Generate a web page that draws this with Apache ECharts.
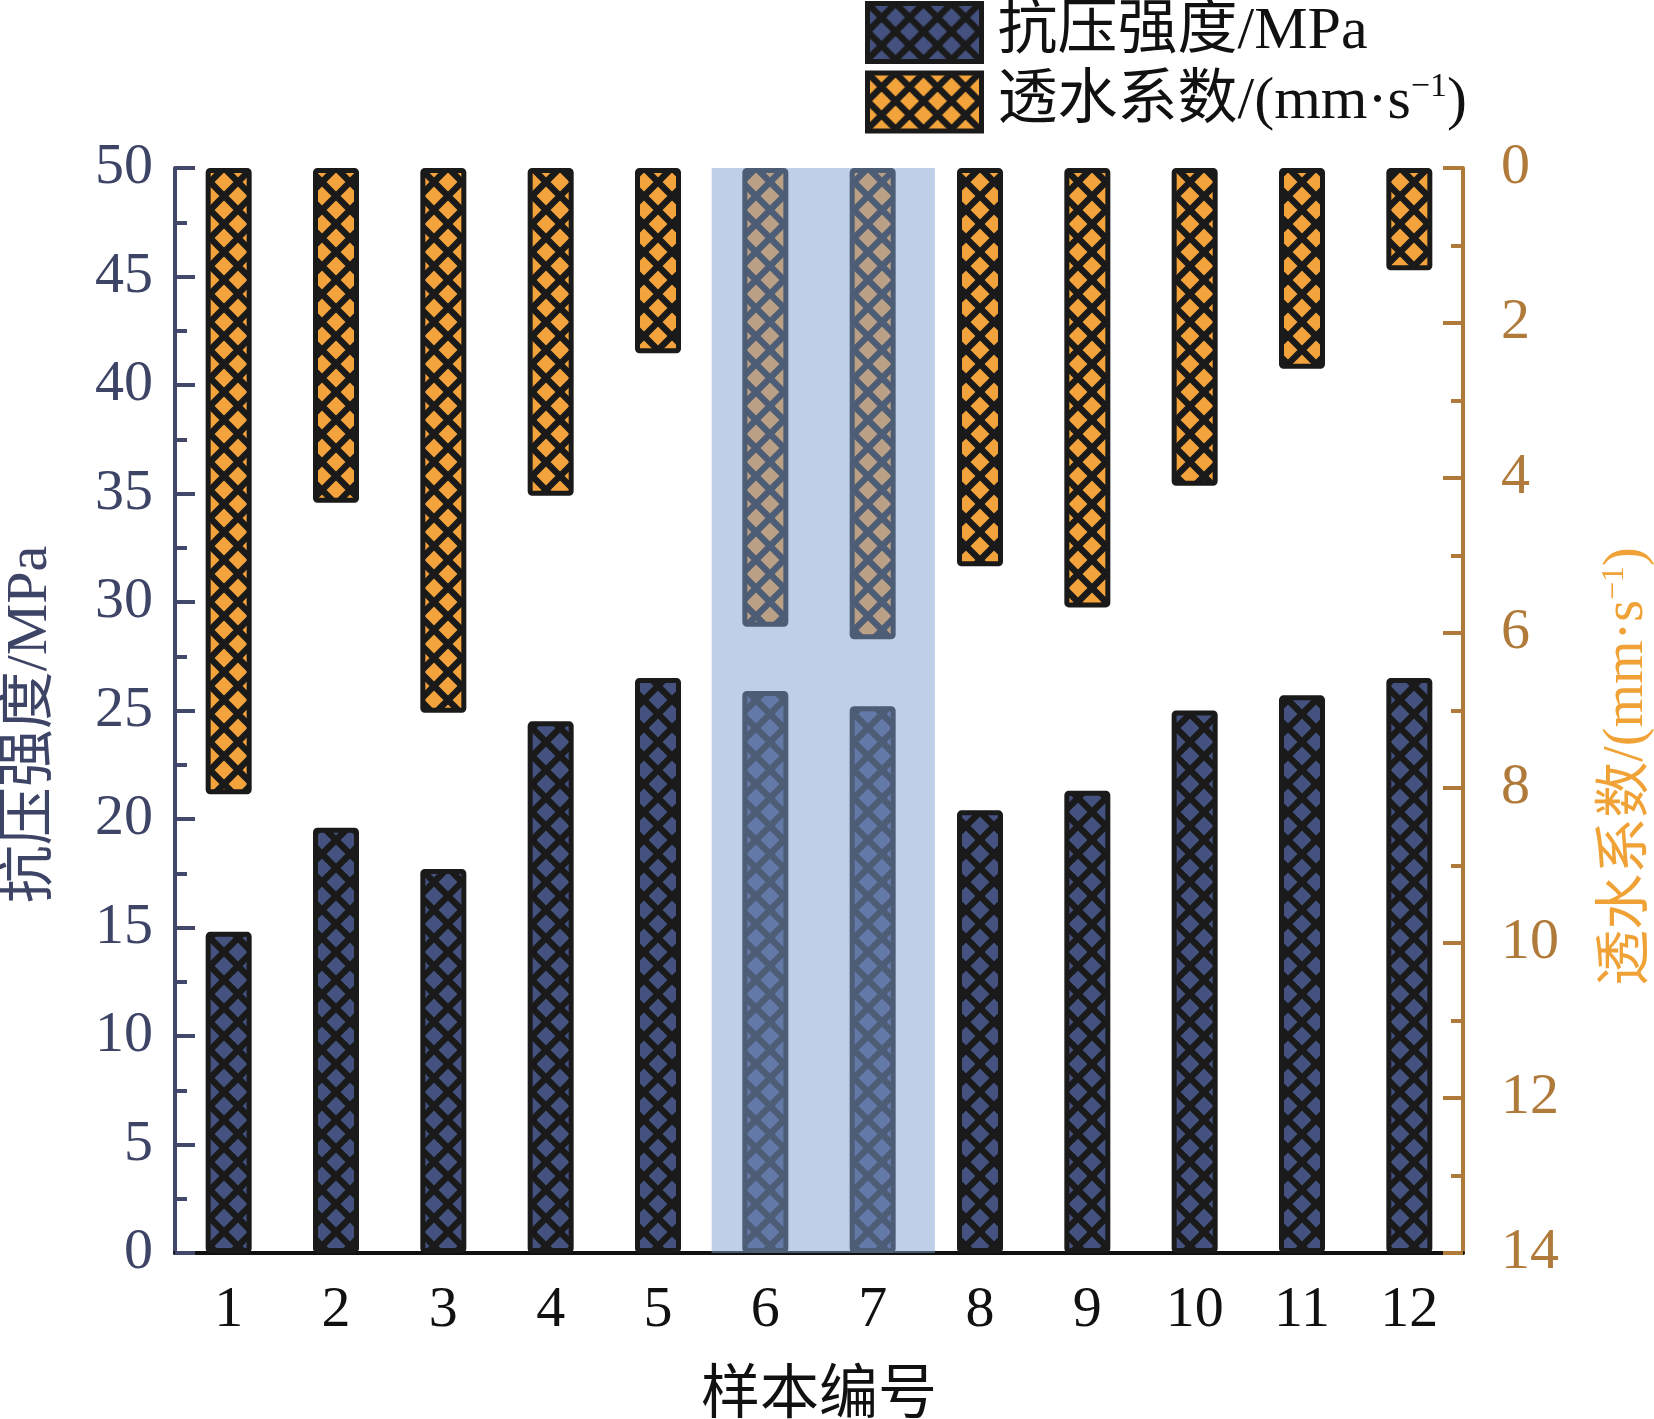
<!DOCTYPE html>
<html>
<head>
<meta charset="utf-8">
<script src="https://cdn.jsdelivr.net/npm/echarts@6/dist/echarts.min.js"></script>
<style>
  html, body { margin: 0; padding: 0; background: #fff; }
  #chart { width: 1654px; height: 1419px; }
</style>
</head>
<body>
<div id="chart"></div>
<script>
// 样本编号
var samples = ['1', '2', '3', '4', '5', '6', '7', '8', '9', '10', '11', '12'];
// 抗压强度/MPa
var strength = [14.8, 19.6, 17.7, 24.5, 26.5, 25.9, 25.2, 20.4, 21.3, 25.0, 25.7, 26.5];
// 透水系数/(mm·s-1)
var permeability = [8.08, 4.32, 7.03, 4.23, 2.39, 5.92, 6.08, 5.14, 5.67, 4.1, 2.59, 1.32];
// 高亮区间 (样本6~7, 按类目位置 0~12)
var highlightRange = [5, 7.08];

var serif = '"Liberation Serif", "Noto Sans CJK SC", serif';
var chart = echarts.init(document.getElementById('chart'));

// 网格填充图案
function makeHatch(bg, line) {
    var size = 28;
    var c = document.createElement('canvas');
    c.width = size;
    c.height = size;
    var ctx = c.getContext('2d');
    ctx.fillStyle = bg;
    ctx.fillRect(0, 0, size, size);
    ctx.strokeStyle = line;
    ctx.lineWidth = 6.5;
    [-size, 0, size].forEach(function (k) {
        ctx.beginPath();
        ctx.moveTo(k, 0);
        ctx.lineTo(k + size, size);
        ctx.moveTo(k + size, 0);
        ctx.lineTo(k, size);
        ctx.stroke();
    });
    return c;
}

var bluePattern = { image: makeHatch('#45527f', '#1a1a1a'), repeat: 'repeat' };
var orangePattern = { image: makeHatch('#f3a33b', '#1a1a1a'), repeat: 'repeat' };

var option = {
    animation: false,
    backgroundColor: '#ffffff',
    textStyle: { fontFamily: serif },
    legend: {
        data: ['抗压强度/MPa', '透水系数/(mm·s-1)'],
        orient: 'vertical',
        left: 860,
        top: -4,
        itemWidth: 114,
        itemHeight: 58,
        itemGap: 6,
        icon: 'rect',
        itemStyle: { borderWidth: 5, borderColor: '#1a1a1a' },
        formatter: function (name) {
            if (name === '透水系数/(mm·s-1)') {
                return '{t|透水系数/(mm·s}{sup|−1}{t|)}';
            }
            return '{t|' + name + '}';
        },
        textStyle: {
            color: '#111',
            fontSize: 60,
            fontFamily: serif,
            padding: [0, 0, 0, 11],
            rich: {
                t: { fontSize: 60, fontFamily: serif, color: '#111', lineHeight: 64 },
                sup: { fontSize: 34, fontFamily: serif, color: '#111', verticalAlign: 'top', lineHeight: 64, padding: [0, 0, 24, 0] }
            }
        }
    },
    grid: {
        left: 175,
        right: 191,
        top: 168,
        bottom: 166,
        containLabel: false,
        outerBoundsMode: 'none'
    },
    xAxis: [
        {
            type: 'category',
            data: samples,
            name: '样本编号',
            nameLocation: 'middle',
            nameGap: 115,
            nameTextStyle: { fontSize: 59, color: '#111', fontFamily: serif },
            axisLine: { onZero: false, lineStyle: { color: '#111', width: 4 } },
            axisTick: { show: false },
            axisLabel: { fontSize: 58, color: '#111', margin: 29, fontFamily: serif },
            splitLine: { show: false }
        },
        {
            type: 'value',
            min: 0,
            max: 12,
            show: false
        }
    ],
    yAxis: [
        {
            type: 'value',
            position: 'left',
            min: 0,
            max: 50,
            interval: 5,
            name: '抗压强度/MPa',
            nameLocation: 'middle',
            nameRotate: 90,
            nameGap: 115,
            nameTextStyle: { fontSize: 58, color: '#3d4466', fontFamily: serif, padding: [0, 28, 0, 0] },
            axisLine: { show: true, lineStyle: { color: '#414869', width: 4 } },
            axisTick: { show: true, inside: true, length: 20, lineStyle: { color: '#414869', width: 4 } },
            minorTick: { show: true, splitNumber: 2, length: 12, lineStyle: { color: '#414869', width: 4 } },
            axisLabel: { fontSize: 58, color: '#3d4466', margin: 22, fontFamily: serif },
            splitLine: { show: false }
        },
        {
            type: 'value',
            position: 'right',
            inverse: true,
            min: 0,
            max: 14,
            interval: 2,
            name: '透水系数/(mm·s{sup|−1})',
            nameLocation: 'middle',
            nameRotate: 90,
            nameGap: 136,
            nameTextStyle: {
                fontSize: 56,
                color: '#f0a236',
                fontFamily: serif,
                padding: [0, 112, 0, 0],
                rich: {
                    sup: { fontSize: 32, color: '#f0a236', fontFamily: serif, verticalAlign: 'top', padding: [0, 0, 22, 0] }
                }
            },
            axisLine: { show: true, lineStyle: { color: '#b07b3a', width: 4 } },
            axisTick: { show: true, inside: true, length: 20, lineStyle: { color: '#b07b3a', width: 4 } },
            minorTick: { show: true, splitNumber: 2, length: 12, lineStyle: { color: '#b07b3a', width: 4 } },
            axisLabel: { fontSize: 58, color: '#b07b3a', margin: 38, fontFamily: serif },
            splitLine: { show: false }
        }
    ],
    series: [
        {
            name: '抗压强度/MPa',
            type: 'bar',
            xAxisIndex: 0,
            yAxisIndex: 0,
            barWidth: 46,
            barGap: '-100%',
            data: strength,
            itemStyle: {
                color: bluePattern,
                borderColor: '#1a1a1a',
                borderWidth: 5,
                borderRadius: 2
            }
        },
        {
            name: '透水系数/(mm·s-1)',
            type: 'bar',
            xAxisIndex: 0,
            yAxisIndex: 1,
            barWidth: 46,
            barGap: '-100%',
            data: permeability,
            itemStyle: {
                color: orangePattern,
                borderColor: '#1a1a1a',
                borderWidth: 5,
                borderRadius: 2
            }
        },
        {
            name: 'highlight',
            type: 'line',
            xAxisIndex: 1,
            yAxisIndex: 0,
            z: 10,
            data: [[highlightRange[0], 0]],
            showSymbol: false,
            symbol: 'none',
            silent: true,
            markArea: {
                silent: true,
                z: 10,
                itemStyle: { color: 'rgba(130, 160, 210, 0.5)' },
                data: [[
                    { xAxis: highlightRange[0], yAxis: 0 },
                    { xAxis: highlightRange[1], yAxis: 50 }
                ]]
            }
        }
    ]
};

chart.setOption(option);
</script>
</body>
</html>
